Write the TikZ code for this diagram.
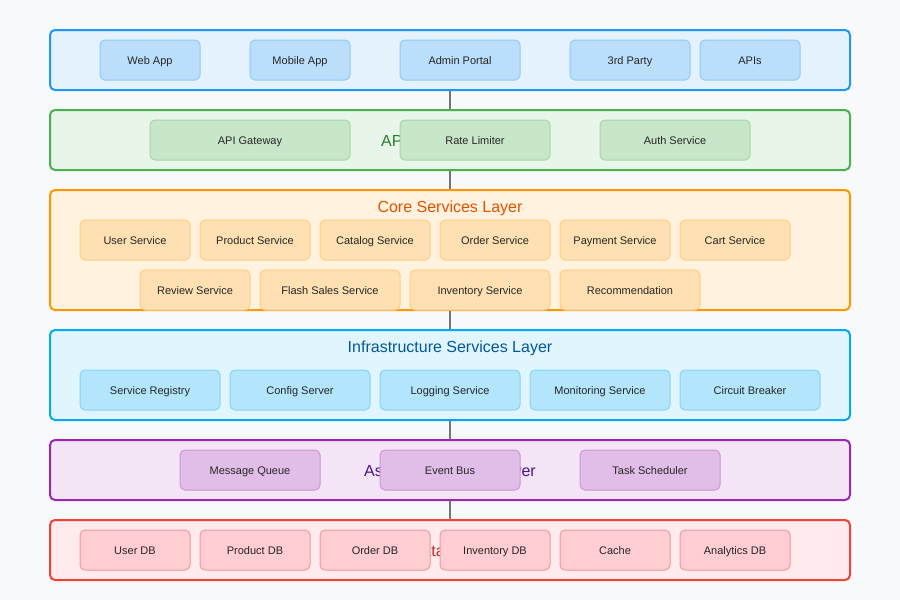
\documentclass[tikz,border=0pt]{standalone}
\usepackage{fontspec}
\setmainfont{Liberation Sans}
\usetikzlibrary{positioning}
\definecolor{pagebg}{HTML}{F8F9FA}
\definecolor{clientline}{HTML}{2196F3}
\definecolor{clientfill}{HTML}{E3F2FD}
\definecolor{clientbox}{HTML}{BBDEFB}
\definecolor{clientedge}{HTML}{90CAF9}
\definecolor{apiline}{HTML}{4CAF50}
\definecolor{apifill}{HTML}{E8F5E9}
\definecolor{apibox}{HTML}{C8E6C9}
\definecolor{apiedge}{HTML}{A5D6A7}
\definecolor{apitext}{HTML}{2E7D32}
\definecolor{coreline}{HTML}{FF9800}
\definecolor{corefill}{HTML}{FFF3E0}
\definecolor{corebox}{HTML}{FFE0B2}
\definecolor{coreedge}{HTML}{FFCC80}
\definecolor{coretext}{HTML}{E65100}
\definecolor{infraline}{HTML}{03A9F4}
\definecolor{infrafill}{HTML}{E1F5FE}
\definecolor{infrabox}{HTML}{B3E5FC}
\definecolor{infraedge}{HTML}{81D4FA}
\definecolor{infratext}{HTML}{01579B}
\definecolor{asyncline}{HTML}{9C27B0}
\definecolor{asyncfill}{HTML}{F3E5F5}
\definecolor{asyncbox}{HTML}{E1BEE7}
\definecolor{asyncedge}{HTML}{CE93D8}
\definecolor{asynctext}{HTML}{4A148C}
\definecolor{dataline}{HTML}{F44336}
\definecolor{datafill}{HTML}{FFEBEE}
\definecolor{databox}{HTML}{FFCDD2}
\definecolor{dataedge}{HTML}{EF9A9A}
\definecolor{datatext}{HTML}{C62828}
\definecolor{linkgray}{HTML}{757575}

\begin{document}
\begin{tikzpicture}[
    x=1pt, y=-1pt,
    layer/.style 2 args={draw=#1, fill=#2, line width=2pt, rounded corners=5pt,
        minimum width=800pt, inner sep=0pt},
    ltitle/.style={text=#1, font=\fontsize{16}{19}\selectfont, inner sep=0pt,
        text height=15pt, text depth=3pt},
    svc/.style 2 args={draw=#2, fill=#1, line width=1pt, rounded corners=5pt,
        minimum height=40pt, inner sep=0pt, text=black!85,
        text height=11pt, text depth=3pt,
        font=\fontsize{11}{13}\selectfont},
    link/.style={draw=linkgray, line width=2pt}
]
\fill[pagebg] (0,0) rectangle (900,600);
\useasboundingbox (0,0) rectangle (900,600);

% layers
\node[layer={clientline}{clientfill}, minimum height=60pt] (client) at (450,60) {};
\node[layer={apiline}{apifill}, minimum height=60pt] (api) at (450,140) {};
\node[layer={coreline}{corefill}, minimum height=120pt] (core) at (450,250) {};
\node[layer={infraline}{infrafill}, minimum height=90pt] (infra) at (450,375) {};
\node[layer={asyncline}{asyncfill}, minimum height=60pt] (async) at (450,470) {};
\node[layer={dataline}{datafill}, minimum height=60pt] (data) at (450,550) {};

\draw[link] (client.south) -- (api.north);
\draw[link] (api.south) -- (core.north);
\draw[link] (core.south) -- (infra.north);
\draw[link] (infra.south) -- (async.north);
\draw[link] (async.south) -- (data.north);

% layer titles
\node[ltitle=apitext] (apititle) at (450,140) {API Gateway Layer};
\node[ltitle=coretext] (coretitle) at (450,206) {Core Services Layer};
\node[ltitle=infratext] (infratitle) at (450,346) {Infrastructure Services Layer};
\node[ltitle=asynctext] (asynctitle) at (450,470) {Async Processing Layer};
\node[ltitle=datatext] (datatitle) at (450,550) {Data Layer};

% client layer
\node[svc={clientbox}{clientedge}, minimum width=100pt] (webapp) at (150,60) {Web App};
\node[svc={clientbox}{clientedge}, minimum width=100pt] (mobileapp) at (300,60) {Mobile App};
\node[svc={clientbox}{clientedge}, minimum width=120pt] (adminportal) at (460,60) {Admin Portal};
\node[svc={clientbox}{clientedge}, minimum width=120pt] (thirdparty) at (630,60) {3rd Party};
\node[svc={clientbox}{clientedge}, minimum width=100pt] (apis) at (750,60) {APIs};

% api gateway layer
\node[svc={apibox}{apiedge}, minimum width=200pt] (gateway) at (250,140) {API Gateway};
\node[svc={apibox}{apiedge}, minimum width=150pt] (ratelimiter) at (475,140) {Rate Limiter};
\node[svc={apibox}{apiedge}, minimum width=150pt] (authsvc) at (675,140) {Auth Service};

% core services layer
\node[svc={corebox}{coreedge}, minimum width=110pt] (usersvc) at (135,240) {User Service};
\node[svc={corebox}{coreedge}, minimum width=110pt] (productsvc) at (255,240) {Product Service};
\node[svc={corebox}{coreedge}, minimum width=110pt] (catalogsvc) at (375,240) {Catalog Service};
\node[svc={corebox}{coreedge}, minimum width=110pt] (ordersvc) at (495,240) {Order Service};
\node[svc={corebox}{coreedge}, minimum width=110pt] (paymentsvc) at (615,240) {Payment Service};
\node[svc={corebox}{coreedge}, minimum width=110pt] (cartsvc) at (735,240) {Cart Service};
\node[svc={corebox}{coreedge}, minimum width=110pt] (reviewsvc) at (195,290) {Review Service};
\node[svc={corebox}{coreedge}, minimum width=140pt] (flashsvc) at (330,290) {Flash Sales Service};
\node[svc={corebox}{coreedge}, minimum width=140pt] (inventorysvc) at (480,290) {Inventory Service};
\node[svc={corebox}{coreedge}, minimum width=140pt] (recommend) at (630,290) {Recommendation};

% infrastructure layer
\node[svc={infrabox}{infraedge}, minimum width=140pt] (registry) at (150,390) {Service Registry};
\node[svc={infrabox}{infraedge}, minimum width=140pt] (config) at (300,390) {Config Server};
\node[svc={infrabox}{infraedge}, minimum width=140pt] (logging) at (450,390) {Logging Service};
\node[svc={infrabox}{infraedge}, minimum width=140pt] (monitoring) at (600,390) {Monitoring Service};
\node[svc={infrabox}{infraedge}, minimum width=140pt] (breaker) at (750,390) {Circuit Breaker};

% async layer
\node[svc={asyncbox}{asyncedge}, minimum width=140pt] (msgqueue) at (250,470) {Message Queue};
\node[svc={asyncbox}{asyncedge}, minimum width=140pt] (eventbus) at (450,470) {Event Bus};
\node[svc={asyncbox}{asyncedge}, minimum width=140pt] (scheduler) at (650,470) {Task Scheduler};

% data layer
\node[svc={databox}{dataedge}, minimum width=110pt] (userdb) at (135,550) {User DB};
\node[svc={databox}{dataedge}, minimum width=110pt] (productdb) at (255,550) {Product DB};
\node[svc={databox}{dataedge}, minimum width=110pt] (orderdb) at (375,550) {Order DB};
\node[svc={databox}{dataedge}, minimum width=110pt] (inventorydb) at (495,550) {Inventory DB};
\node[svc={databox}{dataedge}, minimum width=110pt] (cache) at (615,550) {Cache};
\node[svc={databox}{dataedge}, minimum width=110pt] (analyticsdb) at (735,550) {Analytics DB};
\end{tikzpicture}
\end{document}
